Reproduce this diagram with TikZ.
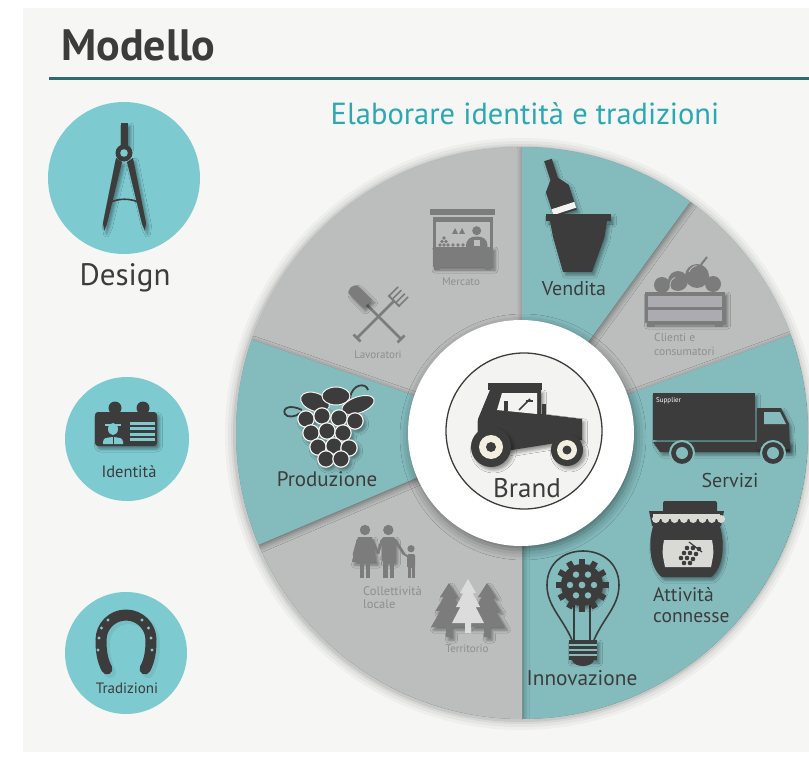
\documentclass[tikz,border=0pt]{standalone}
\usepackage{fontspec}
\setmainfont{PT Sans}
\usetikzlibrary{shadows.blur}
\definecolor{panel}{HTML}{F6F6F4}
\definecolor{wheelteal}{HTML}{84BCBE}
\definecolor{wheelgray}{HTML}{BCBDBD}
\definecolor{discteal}{HTML}{7DCBD1}
\definecolor{ink}{HTML}{3C3C3C}
\definecolor{ash}{HTML}{7C7C7C}
\definecolor{ashtext}{HTML}{8E8E8E}
\definecolor{headteal}{HTML}{2AA9B4}
\definecolor{rulecol}{HTML}{2B6D6C}
\definecolor{cream}{HTML}{F2EFE0}
\definecolor{paper}{HTML}{F3F3F1}
\definecolor{pale}{HTML}{DCDCDC}
\definecolor{crate}{HTML}{ABABB1}
\definecolor{cloth}{HTML}{D9D9D6}

\newcommand\pine[4]{%
  \fill[#4] (#1,#2) -- ({#1+0.25*#3},{#2+14}) -- ({#1+0.14*#3},{#2+14}) -- ({#1+0.38*#3},{#2+28}) -- ({#1+0.24*#3},{#2+28}) -- ({#1+0.5*#3},{#2+44}) -- ({#1+3},{#2+44}) -- ({#1+3},{#2+54}) -- ({#1-3},{#2+54}) -- ({#1-3},{#2+44}) -- ({#1-0.5*#3},{#2+44}) -- ({#1-0.24*#3},{#2+28}) -- ({#1-0.38*#3},{#2+28}) -- ({#1-0.14*#3},{#2+14}) -- ({#1-0.25*#3},{#2+14}) -- cycle;}

\begin{document}
\begin{tikzpicture}[x=1pt,y=-1pt,
  wedge/.style={blur shadow={shadow xshift=1pt,shadow yshift=-2pt,shadow blur radius=6pt,shadow opacity=45}},
  lift/.style={blur shadow={shadow xshift=2.5pt,shadow yshift=-3pt,shadow blur radius=3pt,shadow opacity=40}},
  big/.style={font=\fontsize{20}{21}\selectfont,text=ink,inner sep=0pt,anchor=base},
  tag/.style={font=\fontsize{11}{13}\selectfont,text=ashtext,inner sep=0pt,anchor=base}]
\useasboundingbox (0,0) rectangle (809,762);
\fill[white] (0,0) rectangle (809,762);
\fill[panel] (23,8) rectangle (809,752);
\node[font=\fontsize{44}{48}\selectfont\bfseries,text=ink,inner sep=0pt,anchor=base west] (title) at (61,61) {Modello};
\draw[rulecol,line width=3pt] (49,79) -- (809,79);
\node[font=\fontsize{30.5}{33}\selectfont,text=headteal,inner sep=0pt,anchor=base] (motto) at (525,125) {Elaborare identità e tradizioni};

\begin{scope}
\clip (0,0) rectangle (809,762);
\foreach \r/\o in {296/0.03,293/0.04,290/0.05,288/0.07} \fill[black,opacity=\o] (521,434) circle[radius=\r];
\fill[wheelteal] (522,433) circle[radius=286];
\begin{scope}
\clip (522,433) circle[radius=286];
\fill[wheelgray] (522,433) -- ++(-90:286) arc[start angle=-90,end angle=-161,radius=286] -- cycle;
\fill[wheelgray] (522,433) -- ++(-20:286) arc[start angle=-20,end angle=-54,radius=286] -- cycle;
\fill[wheelteal,wedge] (522,433) -- ++(90:286) arc[start angle=90,end angle=-20,radius=286] -- cycle;
\fill[wheelgray,wedge] (522,433) -- ++(-203:286) arc[start angle=-203,end angle=-270,radius=286] -- cycle;
\fill[wheelteal,wedge] (522,433) -- ++(-54:286) arc[start angle=-54,end angle=-90,radius=286] -- cycle;
\fill[wheelteal,wedge] (522,433) -- ++(-161:286) arc[start angle=-161,end angle=-203,radius=286] -- cycle;
\fill[white,blur shadow={shadow xshift=2pt,shadow yshift=-4pt,shadow blur radius=10pt,shadow opacity=45}] (521,433) circle[radius=113];
\end{scope}
\end{scope}

\filldraw[fill=paper,draw=ink,line width=1.3pt] (524,431) circle[radius=78];
\fill[ink] (488,383) rectangle (542,390);
\fill[ink,lift] (490,390) -- (541,390) -- (541,414) -- (582,419) -- (582,440) -- (556,443) -- (512,450) -- (478,442) -- (478,419) -- cycle;
\fill[paper] (502,393) -- (537,393) -- (537,414) -- (497,410) -- cycle;
\fill[ink] (504,401) rectangle (508,411);
\draw[ink,line width=1.5pt] (519,410) -- (530,399);
\draw[ink,line width=1.2pt] (526,401) -- (533,401);
\fill[ink] (542,404) rectangle (546,418);
\fill[ink,lift] (491,447) circle[radius=20];
\fill[cream] (491,447) circle[radius=12];
\fill[ink] (491,447) circle[radius=5];
\fill[ink,lift] (567,450) circle[radius=16];
\fill[cream] (567,450) circle[radius=10];
\fill[ink] (567,450) circle[radius=4.5];
\node[font=\fontsize{27}{30}\selectfont,text=ink,inner sep=0pt,anchor=base] (brand) at (527,497) {Brand};

\fill[discteal] (124,178) circle[radius=76];
\fill[ink,lift] (121,123) rectangle (128,147);
\fill[ink] (124,153) circle[radius=8.5];
\fill[discteal] (124,153) circle[radius=3.8];
\fill[ink,lift] (116,158) -- (122,162) -- (107,224) -- (104,231) -- (103,223) -- cycle;
\fill[ink,lift] (133,158) -- (127,162) -- (142,224) -- (145,231) -- (146,223) -- cycle;
\draw[ink,line width=1.6pt] (109,203) .. controls (118,198) and (131,198) .. (140,203);
\node[font=\fontsize{31}{34}\selectfont,text=ink,inner sep=0pt,anchor=base] (design) at (125,286) {Design};

\fill[discteal] (127,439) circle[radius=62];
\fill[ink] (115,408) circle[radius=6.5];
\fill[ink] (143,408) circle[radius=6.5];
\fill[ink,rounded corners=3pt,lift] (95,412) rectangle (157,446);
\fill[discteal] (113,429) ellipse[x radius=5,y radius=6];
\draw[discteal,line width=1.5pt] (105,425) -- (121,425);
\fill[discteal] (103,444) -- (103,442) .. controls (104,438) .. (113,437) .. controls (122,438) .. (123,442) -- (123,444) -- cycle;
\draw[ink,line width=1pt] (113,437) -- (113,444);
\foreach \ly in {421.5,427,432.5,438} \fill[discteal] (130,\ly) rectangle (155,{\ly+3});
\node[font=\fontsize{16.5}{18}\selectfont,text=ink,inner sep=0pt,anchor=base] (ident) at (129,477) {Identità};

\fill[discteal] (126,653) circle[radius=61];
\draw[discteal!75!black,opacity=0.25,line width=12pt,line cap=round] (110,672) .. controls (105,663) and (104,653) .. (104,643) arc[start angle=180,end angle=360,radius=25] .. controls (154,653) and (153,663) .. (148,672);
\draw[ink,line width=11pt,line cap=round] (107,669) .. controls (102,660) and (101,650) .. (101,640) arc[start angle=180,end angle=360,radius=25] .. controls (151,650) and (150,660) .. (145,669);
\foreach \hx/\hy in {98/650,99/638,101.5/628,108/620,142/620,148.5/628,151/638,152/650} \fill[discteal] (\hx,\hy) circle[radius=1.6];
\node[font=\fontsize{15}{17}\selectfont,text=ink,inner sep=0pt,anchor=base] (tradi) at (127,693) {Tradizioni};

\fill[ash] (430,209) rectangle (495,215);
\fill[ash] (433,217.5) rectangle (492.5,222.5);
\fill[ash] (433,222) rectangle (436,250);
\fill[ash] (489.5,222) rectangle (492.5,250);
\fill[ash,lift] (432.5,247) rectangle (492.5,267);
\fill[ash] (434,267) rectangle (440,270);
\fill[ash] (485,267) rectangle (491,270);
\fill[ash] (476.7,230.7) circle[radius=4.5];
\fill[ash] (466,247) .. controls (466,239) and (470,236.5) .. (476.7,236.5) .. controls (483.5,236.5) and (487.5,239) .. (487.5,247) -- cycle;
\fill[wheelgray] (474,240) rectangle (480,246);
\foreach \bx in {455,462} \fill[ash] (\bx,228) -- ({\bx+3},234) -- ({\bx-3},234) -- cycle;
\foreach \fx/\fy in {440/245,444/245,448/245,442/241.5,446/241.5,444/238,453/245,458/245,463/245} \fill[ash] (\fx,\fy) circle[radius=1.9];
\node[tag] (market) at (461,285.5) {Mercato};

\draw[ash,line width=2.6pt] (367,305) -- (401,339);
\draw[ash,line width=2.6pt] (397.5,342.5) -- (404.5,335.5);
\fill[ash,lift] (372,300) -- (359,287) .. controls (354,282) and (345,290) .. (350,295) -- (363,308) -- cycle;
\draw[ash,line width=2.6pt] (394,301) -- (357,338);
\draw[ash,line width=2.6pt] (353.5,334.5) -- (360.5,341.5);
\draw[ash,line width=2pt] (388.3,295.3) -- (399.7,306.7);
\foreach \t in {-7,-2.5,2.5,7} \draw[ash,line width=1.6pt] ({394+0.707*\t},{301+0.707*\t}) -- ++(9,-9);
\node[tag] (workers) at (378,358) {Lavoratori};

\fill[ink,lift] (551.8,158.8) -- (558,177.8) -- (568.7,184.8) -- (576.8,209.6) -- (554,217) -- (545.9,192.2) -- (550.4,180.2) -- (544.2,161.2) -- cycle;
\fill[paper] (574.3,201.9) -- (576.2,207.7) -- (553.4,215.1) -- (551.5,209.3) -- cycle;
\fill[ink,lift] (546,214) rectangle (611,221);
\fill[ink,lift] (550,221) -- (607,221) -- (604.5,237) -- (592,272) -- (563,272) -- (553,237) -- cycle;
\node[big] (sales) at (574,295) {Vendita};

\fill[ash] (662,285) circle[radius=8];
\fill[ash] (678,281) circle[radius=10];
\fill[ash] (697,276) circle[radius=12];
\fill[ash] (713,284) circle[radius=8];
\draw[wheelgray,line width=0.8pt] (671,289) arc[start angle=150,end angle=250,radius=8] (689,272) arc[start angle=200,end angle=260,radius=10];
\draw[ash,line width=2pt] (700,266) -- (707,257);
\fill[ash,lift] (645,292) rectangle (725,323);
\fill[crate] (648,296) rectangle (722,306.5);
\fill[crate] (648,310) rectangle (722,320.5);
\fill[ash] (647,323) rectangle (655,327);
\fill[ash] (715,323) rectangle (723,327);
\node[tag,anchor=north west,align=left,font=\fontsize{11.5}{14}\selectfont] (clients) at (654,333) {Clienti e\\consumatori};

\fill[ink,lift] (653,393) rectangle (755,440);
\fill[ink,lift] (653,442) -- (790,442) -- (790,452) -- (660,452) -- cycle;
\fill[ink,lift] (757,408) -- (781,408) -- (789,424) -- (790,449) -- (757,449) -- cycle;
\fill[wheelteal] (764,412) -- (780,412) -- (786,424) -- (764,424) -- cycle;
\foreach \wx in {682,773} {
  \filldraw[fill=ink,draw=wheelteal,line width=2pt] (\wx,453) circle[radius=12];
  \fill[wheelteal] (\wx,453) circle[radius=6];
}
\node[font=\fontsize{7}{8}\selectfont,text=white,inner sep=0pt,anchor=base west] (supplier) at (656,402) {Supplier};
\node[big] (services) at (730,487) {Servizi};

\fill[ink,lift] (655,521) .. controls (647,540) and (649,568) .. (662,577) -- (711,577) .. controls (724,568) and (726,540) .. (718,521) -- cycle;
\fill[ink] (649,511) -- (724,511) -- (721,526) -- (652,526) -- cycle;
\fill[cloth] (653,514) rectangle (720,519);
\foreach \k in {0,...,7} \fill[cloth] ({656+\k*9.3},519) circle[radius=4];
\fill[ink,rounded corners=2pt] (663,501) rectangle (717,513);
\fill[cloth] (664,540) -- (712,540) .. controls (714,552) .. (711,567) -- (665,567) .. controls (662,552) .. (664,540) -- cycle;
\foreach \gx/\gy in {687/548,693/548,699/549,684/553,690/553,696/554,681/558,687/558,693/559,684/563,690/563} \fill[ink] (\gx,\gy) circle[radius=2.3];
\draw[ink,line width=1.2pt] (689,542) -- (702,552);
\node[big,anchor=north west,align=left,font=\fontsize{19.5}{21}\selectfont] (extras) at (653,587) {Attività\\connesse};

\draw[ink,line width=1.6pt] (572,640) .. controls (562,617) and (547,606) .. (547,585) .. controls (547,563) and (564,551) .. (583,551) .. controls (602,551) and (619,563) .. (619,585) .. controls (619,606) and (604,617) .. (594,640);
\draw[ink,line width=1.1pt] (574,605) -- (574,640) (590,605) -- (590,640);
\fill[ink,lift] (582,585) circle[radius=21];
\foreach \a in {0,30,...,330} \fill[ink,rotate around={\a:(582,585)}] (579,558.5) rectangle (585,566);
\foreach \a in {0,60,...,300} \fill[wheelteal] (582,585) ++(\a:12) circle[radius=3.2];
\fill[wheelteal] (582,585) circle[radius=3.4];
\fill[ink,lift] (569,640) rectangle (597,660);
\foreach \sy in {645,650,655} \draw[wheelteal,line width=1.2pt] (569,\sy) -- (597,\sy);
\fill[ink] (572,660) .. controls (574,668) and (592,668) .. (594,660) -- cycle;
\node[big,font=\fontsize{21.3}{23}\selectfont] (innov) at (582,685) {Innovazione};

\fill[ash] (365,530) circle[radius=5.2];
\fill[ash,lift] (358,537) -- (372,537) -- (376,562) -- (352,562) -- cycle;
\fill[ash] (360,560) rectangle (364,578);
\fill[ash] (366,560) rectangle (370,578);
\draw[ash,line width=2.8pt,line cap=round] (358,540) -- (354,555);
\draw[ash,line width=2.8pt,line cap=round] (372,540) -- (378,553);
\fill[ash] (388.3,530) circle[radius=5.2];
\fill[ash,rounded corners=2pt,lift] (382,537) rectangle (395,562);
\fill[ash] (383,560) rectangle (387.5,578);
\fill[ash] (389.5,560) rectangle (394,578);
\draw[ash,line width=2.8pt,line cap=round] (382,540) -- (378,553);
\draw[ash,line width=2.8pt,line cap=round] (395,540) -- (404,554);
\fill[ash] (411,548.7) circle[radius=3.6];
\fill[ash,rounded corners=1.5pt] (407,554) rectangle (415,568);
\fill[ash] (407.5,567) rectangle (410.5,578);
\fill[ash] (411.5,567) rectangle (414.5,578);
\draw[ash,line width=2pt,line cap=round] (407,556) -- (404,554);
\node[tag,anchor=north west,align=left,font=\fontsize{12.5}{13.5}\selectfont] (community) at (363,586) {Collettività\\locale};

\pine{449}{583}{36}{ash,lift}
\pine{487}{583}{36}{ash,lift}
\pine{468}{579}{32}{pale}
\node[tag] (land) at (467,652) {Territorio};

\draw[ink,line width=1.8pt] (302,410) .. controls (290,404) and (282,408) .. (285,414) .. controls (287,418) and (296,417) .. (300,413);
\draw[ink,line width=1.8pt] (350,398) .. controls (352,384) and (366,382) .. (368,390);
\filldraw[fill=ink,draw=paper,line width=1pt,rotate around={-20:(315,402)}] (315,402) ellipse[x radius=15,y radius=9];
\filldraw[fill=ink,draw=paper,line width=1pt,rotate around={20:(358,405)}] (358,405) ellipse[x radius=17,y radius=8];
\filldraw[fill=ink,draw=paper,line width=1pt] (336,396) ellipse[x radius=14,y radius=9];
\fill[ink,lift] (306,419) circle[radius=8.2] (322,416) circle[radius=8.2] (339,418) circle[radius=8.2] (355,421) circle[radius=8.2] (311,433) circle[radius=8.2] (327,431) circle[radius=8.2] (343,433) circle[radius=8.2] (318,447) circle[radius=8.2] (334,446) circle[radius=8.2] (349,448) circle[radius=8.2] (326,459) circle[radius=8.2] (341,459) circle[radius=8.2];
\foreach \bx/\by in {306/419,322/416,339/418,355/421,311/433,327/431,343/433,318/447,334/446,349/448,326/459,341/459} \filldraw[fill=ink,draw=paper,line width=1.2pt] (\bx,\by) circle[radius=8.2];
\node[big,font=\fontsize{21}{23}\selectfont] (prod) at (327,486) {Produzione};
\end{tikzpicture}
\end{document}
